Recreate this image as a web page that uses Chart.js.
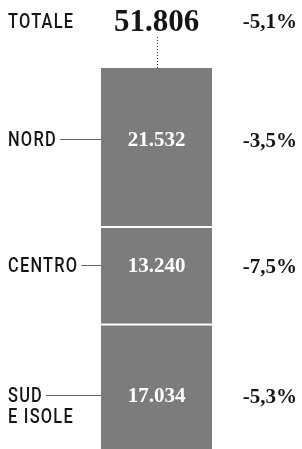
<!DOCTYPE html>
<html>
<head>
<meta charset="utf-8">
<script src="https://cdn.jsdelivr.net/npm/chart.js@4.4.1/dist/chart.umd.min.js"></script>
<style>
  html, body { margin: 0; padding: 0; background: #fff; overflow: hidden; }
  #wrap { position: relative; width: 302px; height: 449px; }
</style>
</head>
<body>
<div id="wrap"><canvas id="c"></canvas></div>
<script>
// ---- data (stack order: bottom to top) ----
const categories = ['SUD\nE ISOLE', 'CENTRO', 'NORD'];
const values = [17034, 13240, 21532];
const valueLabels = ['17.034', '13.240', '21.532'];
const changeLabels = ['-5,3%', '-7,5%', '-3,5%'];
const totalLabel = 'TOTALE';
const totalValueLabel = '51.806';
const totalChangeLabel = '-5,1%';

const total = values.reduce((a, b) => a + b, 0);

const SERIF = '"Liberation Serif", "DejaVu Serif", serif';
const BAR_GRAY = '#7c7c7c';
const labelNudge = [9, -10, -8]; // vertical nudge of each row's text from the segment centre
const SANS_FONT = '500 20px Roboto, "DejaVu Sans", sans-serif';
const SANS_SPACING = '1.5px';
const SANS_SQUEEZE = 0.82; // horizontal condensing of the category labels

function condensedText(ctx, text, x, y) {
  ctx.save();
  ctx.font = SANS_FONT;
  ctx.textAlign = 'left';
  ctx.textBaseline = 'alphabetic';
  if ('letterSpacing' in ctx) ctx.letterSpacing = SANS_SPACING;
  ctx.translate(x, y);
  ctx.scale(SANS_SQUEEZE, 1);
  ctx.fillText(text, 0, 0);
  const w = ctx.measureText(text).width * SANS_SQUEEZE;
  ctx.restore();
  return w;
}

const labelPlugin = {
  id: 'labels',
  afterDatasetsDraw(chart) {
    const ctx = chart.ctx;
    const W = chart.width;
    ctx.save();

    let barLeft = 0, barCenter = 0, barTop = Infinity;
    chart.data.datasets.forEach((ds, i) => {
      const el = chart.getDatasetMeta(i).data[0];
      barLeft = el.x - el.width / 2;
      barCenter = el.x;
      barTop = Math.min(barTop, el.y);
    });

    // top row: totals
    ctx.fillStyle = '#151515';
    ctx.textBaseline = 'alphabetic';
    condensedText(ctx, totalLabel, 8, 28);

    ctx.font = 'bold 31px ' + SERIF;
    ctx.textAlign = 'center';
    ctx.fillText(totalValueLabel, barCenter, 31);

    ctx.font = 'bold 21px ' + SERIF;
    ctx.textAlign = 'right';
    ctx.fillText(totalChangeLabel, W - 5, 28);

    // dotted connector
    ctx.strokeStyle = '#333';
    ctx.lineWidth = 1;
    ctx.setLineDash([1, 2]);
    ctx.beginPath();
    ctx.moveTo(Math.round(barCenter) + 0.5, 37);
    ctx.lineTo(Math.round(barCenter) + 0.5, barTop);
    ctx.stroke();
    ctx.setLineDash([]);

    // rows
    chart.data.datasets.forEach((ds, i) => {
      const el = chart.getDatasetMeta(i).data[0];
      const mid = (el.y + el.base) / 2 + labelNudge[i];
      const base = mid + 7;

      // category label (may be two lines)
      const lines = categories[i].split('\n');
      ctx.fillStyle = '#151515';
      let firstW = 0;
      lines.forEach((t, k) => {
        const w = condensedText(ctx, t, 8, base + k * 21);
        if (k === 0) firstW = w;
      });

      // leader line
      ctx.strokeStyle = '#666';
      ctx.lineWidth = 1;
      ctx.beginPath();
      const ly = Math.round(mid) + 0.5;
      ctx.moveTo(8 + firstW + 3, ly);
      ctx.lineTo(barLeft, ly);
      ctx.stroke();

      // value inside bar
      ctx.fillStyle = '#ffffff';
      ctx.font = 'bold 21px ' + SERIF;
      ctx.textAlign = 'center';
      ctx.fillText(valueLabels[i], barCenter, base);

      // change on the right
      ctx.fillStyle = '#151515';
      ctx.font = 'bold 21px ' + SERIF;
      ctx.textAlign = 'right';
      ctx.fillText(changeLabels[i], W - 5, base + 1);
    });
    ctx.restore();
  }
};

new Chart(document.getElementById('c'), {
  type: 'bar',
  data: {
    labels: [totalLabel],
    datasets: categories.map((cat, i) => ({
      label: cat,
      data: [values[i]],
      backgroundColor: BAR_GRAY,
      borderColor: '#ffffff',
      borderWidth: i < categories.length - 1 ? { top: 2, left: 0, right: 0, bottom: 0 } : 0,
      borderSkipped: false,
      barPercentage: 1,
      categoryPercentage: 1
    }))
  },
  options: {
    responsive: true,
    maintainAspectRatio: false,
    animation: false,
    layout: { padding: { left: 101, right: 90, top: 68, bottom: 0 } },
    plugins: { legend: { display: false }, tooltip: { enabled: false } },
    scales: {
      x: { stacked: true, display: false },
      y: { stacked: true, display: false, min: 0, max: total }
    }
  },
  plugins: [labelPlugin]
});
</script>
</body>
</html>
